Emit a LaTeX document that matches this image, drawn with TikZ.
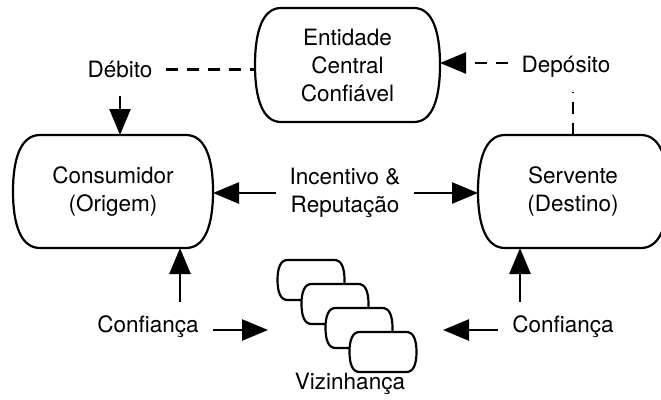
\documentclass[tikz,border=0pt]{standalone}
\usepackage{fontspec}
\setmainfont{TeX Gyre Heros}
\usetikzlibrary{arrows.meta,calc}
\tikzset{
  boxline/.style={line width=2.2pt, line join=round},
  lbl/.style={font=\fontsize{22.5}{28}\selectfont, align=center, inner sep=0pt, outer sep=14pt},
  tip/.style={-{Triangle[length=26pt,width=21pt]}},
  conn/.style={line width=2.6pt, tip},
  dsh/.style={line width=2.4pt, dash pattern=on 12pt off 9pt},
  holder/.style={draw=none, inner sep=0pt, outer sep=0pt, align=center,
    font=\fontsize{22.5}{28}\selectfont},
}
\newcommand\bulgepath[3][]{%
  \path[boxline, draw, #1] ([xshift=#3]#2.north west) -- ([xshift=-#3]#2.north east)
  .. controls ([xshift=-0.3*#3]#2.north east) and ($(#2.east)!0.6!(#2.north east)$) .. (#2.east)
  .. controls ($(#2.east)!0.6!(#2.south east)$) and ([xshift=-0.3*#3]#2.south east) .. ([xshift=-#3]#2.south east)
  -- ([xshift=#3]#2.south west)
  .. controls ([xshift=0.3*#3]#2.south west) and ($(#2.west)!0.6!(#2.south west)$) .. (#2.west)
  .. controls ($(#2.west)!0.6!(#2.north west)$) and ([xshift=0.3*#3]#2.north west) .. cycle;}
\begin{document}
\begin{tikzpicture}[x=1pt,y=-1pt]
\useasboundingbox (0,0) rectangle (661,399);
\clip (0,0) rectangle (661,399);
% main boxes
\node[holder, minimum width=185pt, minimum height=114pt] (ent) at (347.5,65) {Entidade\\Central\\Confiável};
\bulgepath{ent}{26pt}
\node[holder, minimum width=200pt, minimum height=113pt] (cons) at (113,191.5) {Consumidor\\(Origem)};
\bulgepath{cons}{27pt}
\node[holder, minimum width=190pt, minimum height=113pt] (ser) at (573,191.5) {Servente\\(Destino)};
\bulgepath{ser}{27pt}
% neighbourhood stack
\node[holder, minimum width=67pt, minimum height=40pt] (n1) at (311,280) {};
\bulgepath[fill=white]{n1}{10pt}
\node[holder, minimum width=67pt, minimum height=40pt] (n2) at (335,304) {};
\bulgepath[fill=white]{n2}{10pt}
\node[holder, minimum width=67pt, minimum height=40pt] (n3) at (359,328) {};
\bulgepath[fill=white]{n3}{10pt}
\node[holder, minimum width=67pt, minimum height=40pt] (n4) at (383,352) {};
\bulgepath[fill=white]{n4}{10pt}
\node[lbl] (viz) at (350,384) {Vizinhança};
% labels
\node[lbl] (deb) at (120,69.5) {Débito};
\node[lbl] (dep) at (566,67) {Depósito};
\node[lbl] (inc) at (345,193) {Incentivo \&\\Reputação};
\node[lbl] (cL) at (148,327) {Confiança};
\node[lbl] (cR) at (563,327) {Confiança};
\coordinate (vL) at (268,330);
\coordinate (vR) at (443,330);
% connectors
\draw[dsh] (deb.east) -- (deb.east -| ent.west);
\draw[conn] ([yshift=-4pt]deb.south) -- (deb.south |- cons.north);
\draw[dsh, tip] ([yshift=4pt]dep.west) -- ([yshift=4pt]dep.west -| ent.east);
\draw[dsh] (ser.north) -- (ser.north |- dep.south);
\draw[conn] (inc.west) -- (inc.west -| cons.east);
\draw[conn] (inc.east) -- (inc.east -| ser.west);
\draw[conn] (cL.east |- vL) -- (vL);
\draw[conn] ([xshift=32pt]cL.north) -- ([xshift=32pt]cL.north |- cons.south);
\draw[conn] (cR.west |- vR) -- (vR);
\draw[conn] ([xshift=-43pt]cR.north) -- ([xshift=-43pt]cR.north |- ser.south);
\end{tikzpicture}
\end{document}
